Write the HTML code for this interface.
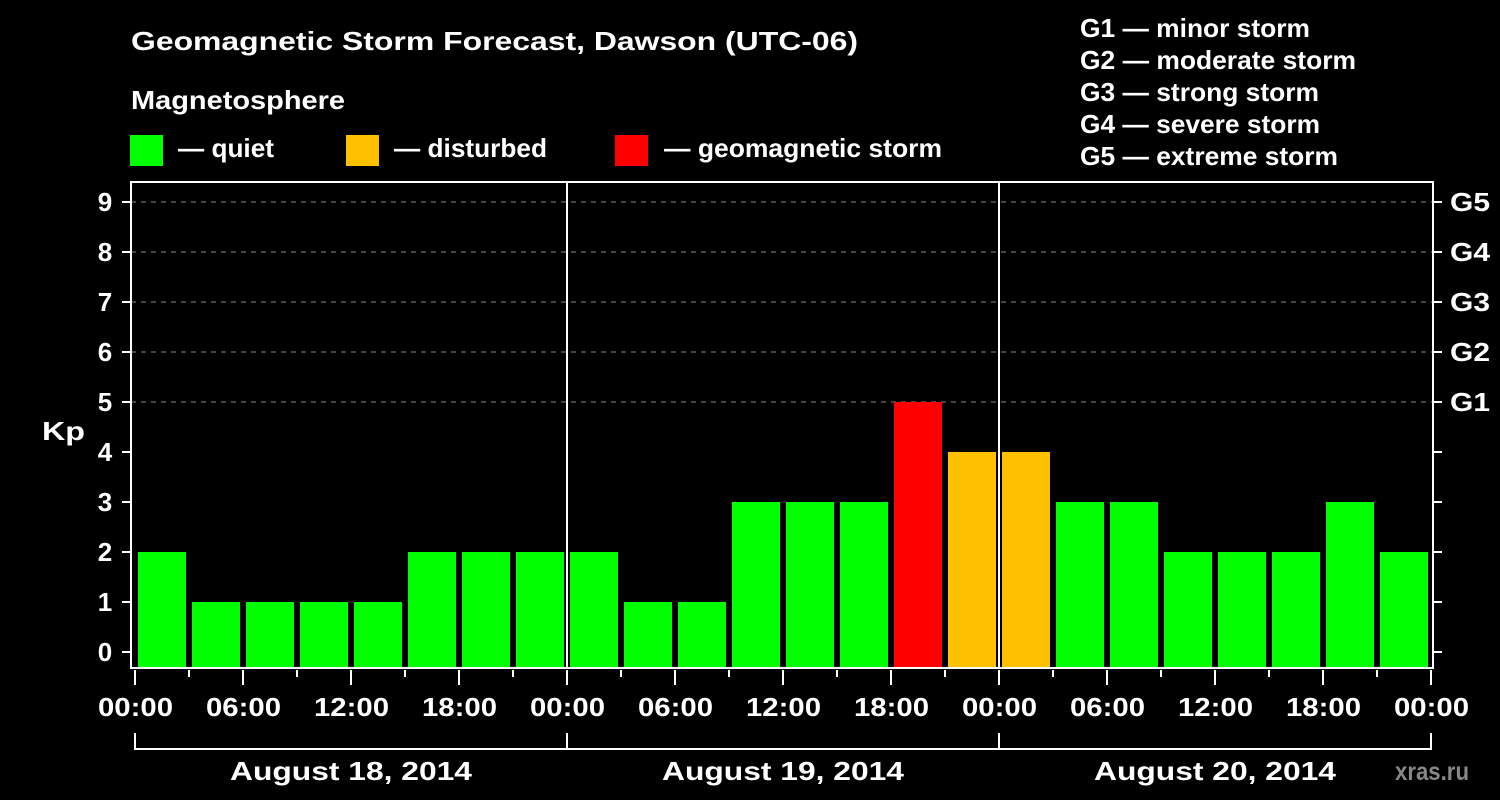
<!DOCTYPE html>
<html><head><meta charset="utf-8"><style>
html,body{margin:0;padding:0;background:#000;}
svg{display:block;}
text{font-family:"Liberation Sans",Arial,sans-serif;font-weight:bold;}
</style></head><body>
<svg id="chart" width="1500" height="800" viewBox="0 0 1500 800">
<rect width="1500" height="800" fill="#000"/>
<text x="131" y="50" fill="#fff" font-size="26" textLength="727" lengthAdjust="spacingAndGlyphs">Geomagnetic Storm Forecast, Dawson (UTC-06)</text>
<text x="131" y="109" fill="#fff" font-size="26" textLength="214" lengthAdjust="spacingAndGlyphs">Magnetosphere</text>
<g><rect x="130" y="135" width="33" height="31" fill="#00ff00"/><text x="178" y="157" fill="#fff" font-size="26" textLength="96" lengthAdjust="spacingAndGlyphs">— quiet</text></g>
<g><rect x="346" y="135" width="33" height="31" fill="#ffc000"/><text x="394" y="157" fill="#fff" font-size="26" textLength="153" lengthAdjust="spacingAndGlyphs">— disturbed</text></g>
<g><rect x="615" y="135" width="33" height="31" fill="#ff0000"/><text x="664" y="157" fill="#fff" font-size="26" textLength="278" lengthAdjust="spacingAndGlyphs">— geomagnetic storm</text></g>
<g font-size="26" fill="#fff">
<text x="1080" y="37" textLength="230" lengthAdjust="spacingAndGlyphs">G1 — minor storm</text>
<text x="1080" y="69" textLength="276" lengthAdjust="spacingAndGlyphs">G2 — moderate storm</text>
<text x="1080" y="101" textLength="239" lengthAdjust="spacingAndGlyphs">G3 — strong storm</text>
<text x="1080" y="133" textLength="240" lengthAdjust="spacingAndGlyphs">G4 — severe storm</text>
<text x="1080" y="165" textLength="258" lengthAdjust="spacingAndGlyphs">G5 — extreme storm</text>
</g>
<text x="42" y="440" fill="#fff" font-size="26" textLength="43" lengthAdjust="spacingAndGlyphs">Kp</text>
<text x="1395" y="780" fill="#888" font-size="25" textLength="74" lengthAdjust="spacingAndGlyphs">xras.ru</text>
<g id="grid"></g><g id="bars"></g><g id="axes"></g>
</svg>
<script>
const kpValues=[2,1,1,1,1,2,2,2, 2,1,1,3,3,3,5,4, 4,3,3,2,2,2,3,2];
const kpTicks=[0,1,2,3,4,5,6,7,8,9];
const gLabels=["G1","G2","G3","G4","G5"];
const hourLabels=["00:00","06:00","12:00","18:00"];
const dayLabels=["August 18, 2014","August 19, 2014","August 20, 2014"];
(function(){
const NS="http://www.w3.org/2000/svg";
const x0=135,pxh=18,yZero=652,pxk=50,pTop=182,pBottom=668,pLeft=131,pRight=1433;
const xs=h=>x0+h*pxh, ys=k=>yZero-k*pxk;
function mk(tag,attrs,parent,txt){const e=document.createElementNS(NS,tag);for(const k in attrs)e.setAttribute(k,attrs[k]);if(txt!==undefined)e.textContent=txt;document.getElementById(parent).appendChild(e);return e;}
kpTicks.forEach(k=>{if(k>=5){const l=mk('line',{x1:pLeft,x2:pRight,y1:ys(k),y2:ys(k),stroke:'#888','stroke-dasharray':'5,5','stroke-width':1},'grid');

}});
kpValues.forEach((v,i)=>{const c=v>=5?'#ff0000':(v>=4?'#ffc000':'#00ff00');
const r=mk('rect',{x:xs(i*3)+3,width:3*pxh-6,y:ys(v),height:pBottom-ys(v),fill:c},'bars');

});
const f=mk('rect',{x:pLeft,y:pTop,width:pRight-pLeft,height:pBottom-pTop,fill:'none',stroke:'#fff','stroke-width':2},'axes');


[1,2].forEach(d=>{const l=mk('line',{x1:xs(d*24),x2:xs(d*24),y1:pTop,y2:pBottom,stroke:'#fff','stroke-width':2},'axes');

});
kpTicks.forEach(k=>{mk('line',{x1:122,x2:pLeft,y1:ys(k),y2:ys(k),stroke:'#fff','stroke-width':2},'axes');
mk('line',{x1:pRight,x2:pRight+9,y1:ys(k),y2:ys(k),stroke:'#fff','stroke-width':2},'axes');
const t=mk('text',{x:105,y:ys(k)+9,fill:'#fff','font-size':26,'text-anchor':'middle'},'axes',String(k));

});
gLabels.forEach((g,i)=>{const t=mk('text',{x:1450,y:ys(5+i)+9,fill:'#fff','font-size':26,textLength:40,lengthAdjust:'spacingAndGlyphs'},'axes',g);

});
for(let h=0;h<=72;h+=3){const major=h%6===0;mk('line',{x1:xs(h),x2:xs(h),y1:pBottom+2,y2:major?685:677,stroke:'#fff','stroke-width':2},'axes');
if(major){const t=mk('text',{x:xs(h)-37,y:716,fill:'#fff','font-size':26,textLength:75,lengthAdjust:'spacingAndGlyphs'},'axes',hourLabels[(h/6)%4]);

}}
mk('line',{x1:xs(0),x2:xs(72),y1:749,y2:749,stroke:'#fff','stroke-width':2},'axes');
for(let d=0;d<=3;d++)mk('line',{x1:xs(d*24),x2:xs(d*24),y1:733,y2:750,stroke:'#fff','stroke-width':2},'axes');
dayLabels.forEach((s,d)=>{const t=mk('text',{x:xs(d*24+12)-121,y:780,fill:'#fff','font-size':26,textLength:242,lengthAdjust:'spacingAndGlyphs'},'axes',s);

});
})();
</script>
</body></html>
